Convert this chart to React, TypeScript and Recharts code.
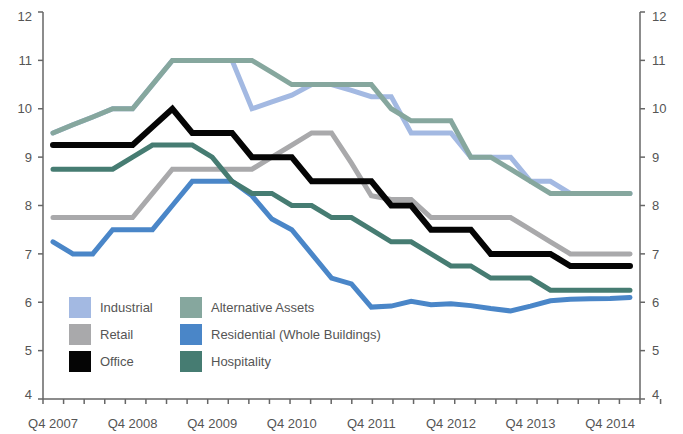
import { LineChart, Line, XAxis, YAxis, Legend } from "recharts";

const quarters = [
  "Q4 2007", "Q1 2008", "Q2 2008", "Q3 2008", "Q4 2008", "Q1 2009", "Q2 2009", "Q3 2009",
  "Q4 2009", "Q1 2010", "Q2 2010", "Q3 2010", "Q4 2010", "Q1 2011", "Q2 2011", "Q3 2011",
  "Q4 2011", "Q1 2012", "Q2 2012", "Q3 2012", "Q4 2012", "Q1 2013", "Q2 2013", "Q3 2013",
  "Q4 2013", "Q1 2014", "Q2 2014", "Q3 2014", "Q4 2014", "Q1 2015",
];
const labelTicks = ["Q4 2007", "Q4 2008", "Q4 2009", "Q4 2010", "Q4 2011", "Q4 2012", "Q4 2013", "Q4 2014"];
const yTicks = [4, 5, 6, 7, 8, 9, 10, 11, 12];
const quarterEdges = [0, 1, 2, 3, 4, 5, 6, 7, 8, 9, 10, 11, 12, 13, 14, 15, 16, 17, 18, 19, 20, 21, 22, 23, 24, 25, 26, 27, 28, 29, 30];

const industrial = [9.5, 9.67, 9.83, 10, 10, 10.5, 11, 11, 11, 11, 10.0, 10.14, 10.28, 10.5, 10.5, 10.38, 10.25, 10.25, 9.5, 9.5, 9.5, 9.0, 9.0, 9.0, 8.5, 8.5, 8.25, 8.25, 8.25, 8.25];
const alternative = [9.5, 9.67, 9.83, 10, 10, 10.5, 11, 11, 11, 11, 11, 10.75, 10.5, 10.5, 10.5, 10.5, 10.5, 10.0, 9.75, 9.75, 9.75, 9.0, 9.0, 8.75, 8.5, 8.25, 8.25, 8.25, 8.25, 8.25];
const retail = [7.75, 7.75, 7.75, 7.75, 7.75, 8.25, 8.75, 8.75, 8.75, 8.75, 8.75, 9.0, 9.25, 9.5, 9.5, 8.875, 8.2, 8.125, 8.125, 7.75, 7.75, 7.75, 7.75, 7.75, 7.5, 7.25, 7.0, 7.0, 7.0, 7.0];
const office = [9.25, 9.25, 9.25, 9.25, 9.25, 9.625, 10, 9.5, 9.5, 9.5, 9.0, 9.0, 9.0, 8.5, 8.5, 8.5, 8.5, 8.0, 8.0, 7.5, 7.5, 7.5, 7.0, 7.0, 7.0, 7.0, 6.75, 6.75, 6.75, 6.75];
const residential = [7.25, 7.0, 7.0, 7.5, 7.5, 7.5, 8.0, 8.5, 8.5, 8.5, 8.2, 7.72, 7.5, 7.0, 6.5, 6.38, 5.9, 5.92, 6.02, 5.95, 5.97, 5.93, 5.87, 5.82, 5.92, 6.03, 6.06, 6.07, 6.08, 6.1];
const hospitality = [8.75, 8.75, 8.75, 8.75, 9.0, 9.25, 9.25, 9.25, 9.0, 8.5, 8.25, 8.25, 8.0, 8.0, 7.75, 7.75, 7.5, 7.25, 7.25, 7.0, 6.75, 6.75, 6.5, 6.5, 6.5, 6.25, 6.25, 6.25, 6.25, 6.25];

const data = quarters.map((q, i) => ({
  quarter: q,
  industrial: industrial[i],
  alternative: alternative[i],
  retail: retail[i],
  office: office[i],
  residential: residential[i],
  hospitality: hospitality[i],
}));

const series: Record<string, { name: string; color: string; width: number }> = {
  industrial: { name: "Industrial", color: "#a3b9e2", width: 5 },
  retail: { name: "Retail", color: "#a9a9ab", width: 5 },
  office: { name: "Office", color: "#050505", width: 6 },
  alternative: { name: "Alternative Assets", color: "#86a79e", width: 5 },
  residential: { name: "Residential (Whole Buildings)", color: "#4a86c8", width: 5 },
  hospitality: { name: "Hospitality", color: "#467c72", width: 5 },
};
const legendOrder = ["industrial", "retail", "office", "alternative", "residential", "hospitality"];
const drawOrder = ["industrial", "alternative", "retail", "office", "residential", "hospitality"];

const FONT = "'Liberation Sans', Arial, sans-serif";
const TEXT = "#555";
const AXIS = "#666";

const YTick = ({ x, y, payload, textAnchor }: any) => {
  // end labels sit inside the axis range, like the source chart
  const shift = payload.value === 12 ? 4 : payload.value === 4 ? -5 : 0;
  return (
    <text x={x} y={y + shift} dy="0.36em" textAnchor={textAnchor} fill={TEXT} fontSize={13} fontFamily={FONT}>
      {payload.value}
    </text>
  );
};

const NoLabel = () => <g />;

const LegendBox = () => (
  <div
    style={{
      display: "grid",
      gridTemplateColumns: "111px 220px",
      gridTemplateRows: "repeat(3, 27px)",
      gridAutoFlow: "column",
      fontFamily: FONT,
      fontSize: 13,
      color: TEXT,
    }}
  >
    {legendOrder.map((k) => (
      <div key={k} style={{ display: "flex", alignItems: "center", height: 21 }}>
        <span style={{ width: 22, height: 21, background: series[k].color, marginRight: 9 }} />
        <span>{series[k].name}</span>
      </div>
    ))}
  </div>
);

export default function App() {
  return (
    <div style={{ position: "absolute", left: 0, top: 0, width: 683, height: 434, background: "#fff" }}>
      <LineChart width={683} height={434} data={data} margin={{ top: 12, right: 0, bottom: 0, left: 0 }}>
        {/* quarter boundary tick marks + axis line */}
        <XAxis
          xAxisId="a_marks"
          type="number"
          domain={[0, 30]}
          allowDataOverflow
          ticks={quarterEdges}
          interval={0}
          tick={<NoLabel />}
          height={1}
          tickSize={5}
          stroke={AXIS}
          strokeWidth={1.5}
        />
        {/* quarter labels */}
        <XAxis
          xAxisId="b_q"
          dataKey="quarter"
          ticks={labelTicks}
          interval={0}
          padding={{ left: 10, right: 10 }}
          height={34}
          axisLine={false}
          tickLine={false}
          tickSize={5}
          tickMargin={14}
          tick={{ fill: TEXT, fontSize: 13, fontFamily: FONT }}
        />
        <YAxis
          yAxisId="left"
          domain={[4, 12]}
          allowDataOverflow
          ticks={yTicks}
          width={43}
          tickSize={5}
          tickMargin={6}
          stroke={AXIS}
          strokeWidth={1.5}
          tick={<YTick />}
        />
        <YAxis
          yAxisId="right"
          orientation="right"
          type="number"
          domain={[4, 12]}
          allowDataOverflow
          ticks={yTicks}
          width={43}
          tickSize={5}
          tickMargin={7}
          stroke={AXIS}
          strokeWidth={1.5}
          tick={<YTick />}
        />
        <Legend
          layout="vertical"
          align="center"
          verticalAlign="middle"
          content={<LegendBox />}
          wrapperStyle={{ left: 69, top: 297, width: 340 }}
        />
        {drawOrder.map((k) => (
          <Line
            key={k}
            xAxisId="b_q"
            yAxisId="left"
            type="linear"
            dataKey={k}
            name={series[k].name}
            stroke={series[k].color}
            strokeWidth={series[k].width}
            strokeLinecap="round"
            dot={false}
            activeDot={false}
            isAnimationActive={false}
          />
        ))}
      </LineChart>
    </div>
  );
}
